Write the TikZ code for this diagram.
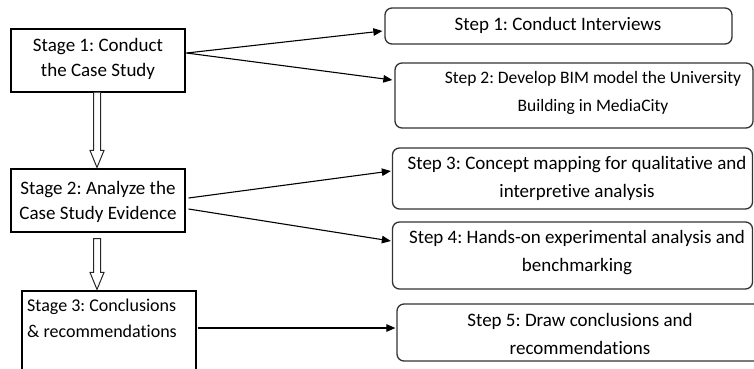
\documentclass[tikz,border=0pt]{standalone}
\usepackage{fontspec}
\setmainfont{Carlito}[Ligatures=NoCommon]
\usetikzlibrary{arrows.meta,calc}
\frenchspacing
\begin{document}
\begin{tikzpicture}[x=1pt,y=-1pt,
  stagebox/.style={draw=black, line width=1.1pt, rectangle, inner sep=0pt},
  stepbox/.style={draw=black!80, line width=1.3pt, rounded corners=7pt, inner sep=0pt},
  stagetext/.style={align=center, inner sep=0pt, font=\fontsize{19}{25}\selectfont},
  steptext/.style={align=center, inner sep=0pt, font=\fontsize{19}{28}\selectfont},
  link/.style={-{Triangle[length=9pt,width=7.5pt]}, line width=1.1pt},
  hollow/.style={draw=black!85, line width=1pt, fill=white}]
\useasboundingbox (0,0) rectangle (754,368);

% stages on the left
\node[stagebox, minimum width=174pt, minimum height=63pt] (st1) at (98,60.5) {};
\node[stagebox, minimum width=174pt, minimum height=63pt] (st2) at (98,200.5) {};
\node[stagebox, minimum width=174pt, minimum height=100pt] (st3) at (109,341) {};

\node[stagetext] (st1t) at (98,58.5) {Stage 1: Conduct\\the Case Study};
\node[stagetext] (st2t) at (98,202) {Stage 2: Analyze the\\Case Study Evidence};
\node[stagetext, align=left, font=\fontsize{18}{26}\selectfont] (st3t) at (102,318.5) {Stage 3: Conclusions\\\& recommendations};

% steps on the right
\node[stepbox, minimum width=347pt, minimum height=36pt] (s1) at (558.5,26) {};
\node[stepbox, minimum width=358pt, minimum height=65pt] (s2) at (574,95.5) {};
\node[stepbox, minimum width=360pt, minimum height=61pt] (s3) at (572.5,178.5) {};
\node[stepbox, minimum width=360pt, minimum height=67pt] (s4) at (572.5,255.5) {};
\node[stepbox, minimum width=394pt, minimum height=57pt] (s5) at (594,332.5) {};

\node[steptext] (s1t) at (558,25) {Step 1: Conduct Interviews};
\node[steptext, font=\fontsize{17.5}{28}\selectfont] (s2t) at (593,93) {Step 2: Develop BIM model the University\\Building in MediaCity};
\node[steptext] (s3t) at (577,178) {Step 3: Concept mapping for qualitative and\\interpretive analysis};
\node[steptext] (s4t) at (577,252.5) {Step 4: Hands-on experimental analysis and\\benchmarking};
\node[steptext] (s5t) at (580,334) {Step 5: Draw conclusions and\\recommendations};

% connectors from stages to steps
\draw[link] ([xshift=1pt,yshift=7.5pt]st1.east) -- ([xshift=-2pt,yshift=-5pt]s1.west);
\draw[link] ([xshift=1pt,yshift=7.5pt]st1.east) -- ([xshift=-2pt,yshift=15.5pt]s2.west);
\draw[link] ([xshift=3pt,yshift=2.5pt]st2.east) -- ([xshift=-1pt,yshift=7.5pt]s3.west);
\draw[link] ([xshift=3pt,yshift=-8.5pt]st2.east) -- ([xshift=-1pt,yshift=14.5pt]s4.west);
\draw[link] ([xshift=1pt,yshift=13pt]st3.east) -- ([xshift=-1pt,yshift=4.5pt]s5.west);

% hollow block arrows between stages
\draw[hollow] ($(st1.south)+(-4.5,0)$) -- ($(st2.north)+(-4.5,-18)$) -- ($(st2.north)+(-8,-18)$)
  -- ($(st2.north)+(-1,-1)$) -- ($(st2.north)+(6,-18)$) -- ($(st2.north)+(2.5,-18)$) -- ($(st1.south)+(2.5,0)$);
\coordinate (h2) at ($(st2.south |- st3.north)+(-1,-1)$);
\draw[hollow] ($(st2.south)+(-4.5,6)$) -- ($(h2)+(-3.5,-17)$) -- ($(h2)+(-7,-17)$)
  -- (h2) -- ($(h2)+(7,-17)$) -- ($(h2)+(3.5,-17)$) -- ($(st2.south)+(2.5,6)$) -- cycle;
\end{tikzpicture}
\end{document}
